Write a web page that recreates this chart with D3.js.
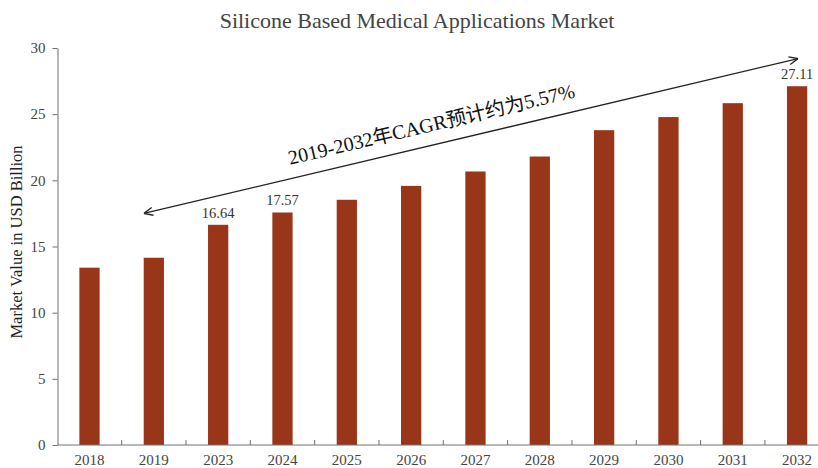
<!DOCTYPE html>
<html lang="en">
<head>
  <meta charset="UTF-8">
  <title>Silicone Based Medical Applications Market</title>
  <script src="https://d3js.org/d3.v7.min.js"></script>
  <style>
    body {
      margin: 0;
      background: #fff;
    }
    svg {
      display: block;
      font-family: "Liberation Serif", "Times New Roman", serif;
    }
    .axis path, .axis line {
      stroke: #707070;
    }
    .axis text {
      fill: #444;
      font-size: 15px;
      font-family: "Liberation Serif", serif;
    }
  </style>
</head>
<body>
  <svg id="chart" width="818" height="468"></svg>

  <script>
    // values
    const years = ["2018", "2019", "2023", "2024", "2025", "2026", "2027", "2028", "2029", "2030", "2031", "2032"];
    const values = [13.4, 14.15, 16.64, 17.57, 18.53, 19.58, 20.67, 21.8, 23.79, 24.78, 25.83, 27.11];
    const labelledYears = ["2023", "2024", "2032"];
    const yTicks = [0, 5, 10, 15, 20, 25, 30];
    // arrow runs from 2019 (left) to 2032 (right), in data units
    const arrowFrom = { year: "2019", value: 17.5 };
    const arrowTo = { year: "2032", value: 29.2 };

    const width = 818, height = 468;
    const margin = { left: 57.5, top: 48, bottom: 23 };
    const svg = d3.select("#chart");

    const x = d3.scaleBand()
      .domain(years)
      .range([margin.left, margin.left + 64.3 * years.length])
      .paddingInner(0.685)
      .paddingOuter(0.34);

    const y = d3.scaleLinear()
      .domain([0, 30])
      .range([height - margin.bottom, margin.top]);

    // title
    svg.append("text")
      .attr("x", 417)
      .attr("y", 28)
      .attr("text-anchor", "middle")
      .attr("fill", "#444")
      .style("font-size", "22px")
      .text("Silicone Based Medical Applications Market");

    // bars
    svg.selectAll(".bar")
      .data(years)
      .join("rect")
        .attr("class", "bar")
        .attr("x", d => x(d))
        .attr("y", (d, i) => y(values[i]))
        .attr("width", x.bandwidth())
        .attr("height", (d, i) => y(0) - y(values[i]))
        .attr("fill", "#993519");

    // value labels on a few bars
    svg.selectAll(".val")
      .data(years.filter(d => labelledYears.includes(d)))
      .join("text")
        .attr("class", "val")
        .attr("x", d => x(d) + x.bandwidth() / 2)
        .attr("y", d => y(values[years.indexOf(d)]) - 7)
        .attr("text-anchor", "middle")
        .attr("fill", "#333")
        .style("font-size", "14.5px")
        .text(d => values[years.indexOf(d)].toFixed(2));

    // y axis
    svg.append("g")
      .attr("class", "axis")
      .attr("transform", `translate(${margin.left},0)`)
      .call(d3.axisLeft(y).tickValues(yTicks).tickSize(5).tickSizeOuter(0).tickPadding(7));

    // x axis: ticks between categories, pointing up
    const xAxis = svg.append("g")
      .attr("class", "axis")
      .attr("transform", `translate(0,${y(0)})`);
    xAxis.append("line")
      .attr("x1", margin.left).attr("x2", width)
      .attr("stroke", "#707070");
    xAxis.selectAll(".tk")
      .data(years.slice(1))
      .join("line")
        .attr("x1", d => x(d) - x.step() * x.paddingInner() / 2)
        .attr("x2", d => x(d) - x.step() * x.paddingInner() / 2)
        .attr("y1", 0).attr("y2", -5)
        .attr("stroke", "#707070");
    xAxis.selectAll(".lbl")
      .data(years)
      .join("text")
        .attr("x", d => x(d) + x.bandwidth() / 2)
        .attr("y", 20)
        .attr("text-anchor", "middle")
        .text(d => d);

    // y axis title
    svg.append("text")
      .attr("transform", `translate(22,242) rotate(-90)`)
      .attr("text-anchor", "middle")
      .attr("fill", "#222")
      .style("font-size", "16.5px")
      .text("Market Value in USD Billion");

    // CAGR arrow
    svg.append("defs").selectAll("marker")
      .data(["start", "end"])
      .join("marker")
        .attr("id", d => "arr-" + d)
        .attr("viewBox", "0 0 10 10")
        .attr("refX", 10).attr("refY", 5)
        .attr("markerWidth", 10).attr("markerHeight", 10)
        .attr("markerUnits", "userSpaceOnUse")
        .attr("orient", d => d === "start" ? "auto-start-reverse" : "auto")
      .append("path")
        .attr("d", "M1,1 L10,5 L1,9")
        .attr("fill", "none")
        .attr("stroke", "#222")
        .attr("stroke-width", 1.3);

    const ax1 = x(arrowFrom.year) + x.bandwidth() / 2 - 10, ay1 = y(arrowFrom.value);
    const ax2 = x(arrowTo.year) + x.bandwidth() / 2 + 1, ay2 = y(arrowTo.value);
    svg.append("line")
      .attr("x1", ax1).attr("y1", ay1)
      .attr("x2", ax2).attr("y2", ay2)
      .attr("stroke", "#222")
      .attr("stroke-width", 1.3)
      .attr("marker-start", "url(#arr-start)")
      .attr("marker-end", "url(#arr-end)");

    const angle = Math.atan2(ay2 - ay1, ax2 - ax1) * 180 / Math.PI;
    svg.append("text")
      .attr("transform", `translate(433,131) rotate(${angle})`)
      .attr("text-anchor", "middle")
      .attr("fill", "#111")
      .style("font-size", "20px")
      .style("font-family", "'Liberation Serif', 'Noto Sans CJK SC', serif")
      .text("2019-2032年CAGR预计约为5.57%");
  </script>
</body>
</html>
